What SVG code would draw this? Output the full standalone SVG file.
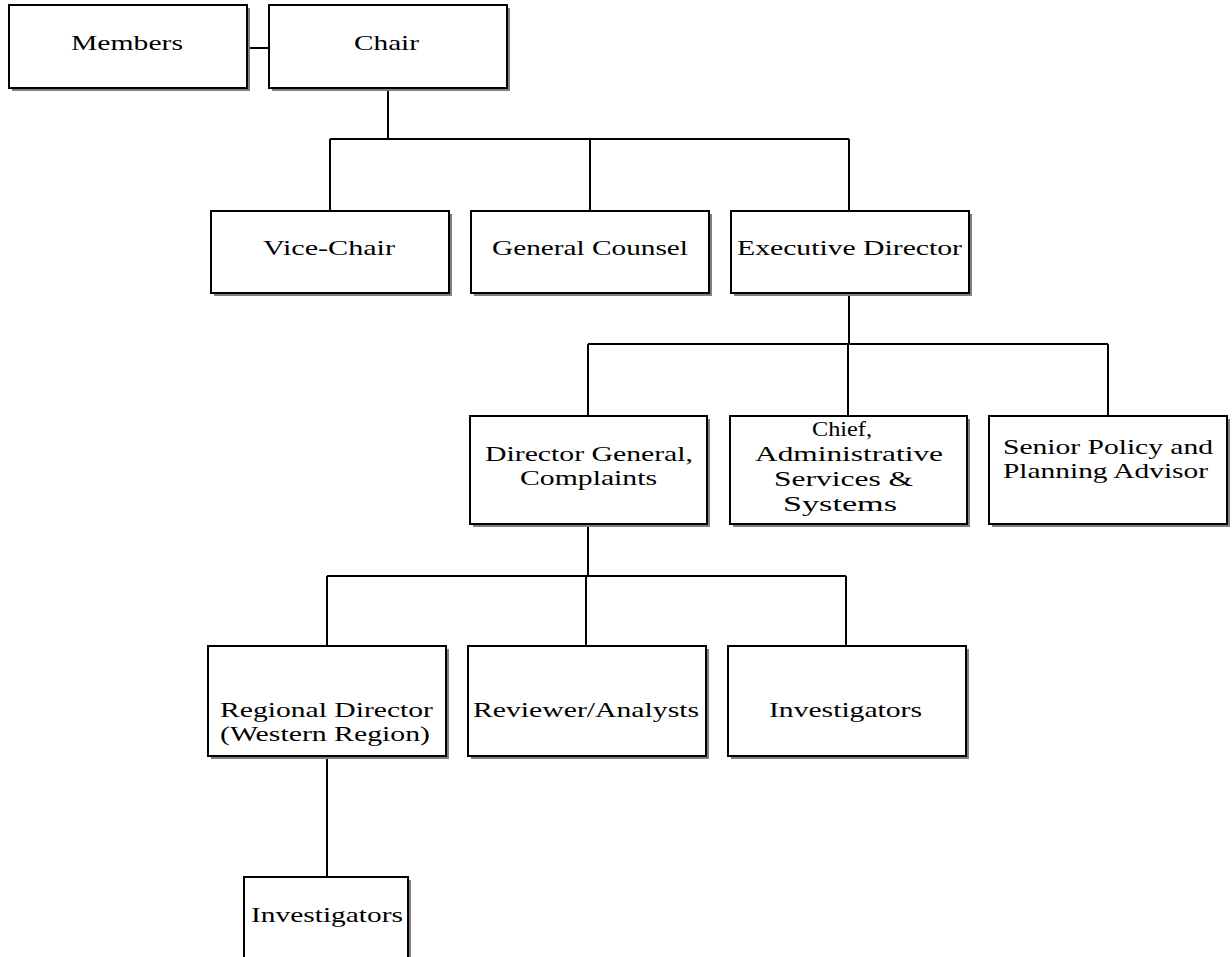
<svg xmlns="http://www.w3.org/2000/svg" width="1232" height="957" viewBox="0 0 1232 957">
<defs>
<style>
.shadow{fill:#808080;}
.box{fill:#ffffff;stroke:#000000;stroke-width:2;}
.lbl{font-family:'Liberation Serif','Times New Roman',Times,serif;font-size:22px;fill:#000000;}
.conn{stroke:#000000;stroke-width:2;fill:none;}
</style>
</defs>
<rect x="0" y="0" width="1232" height="957" fill="#ffffff"/>
<g id="connectors">
<path class="conn" d="M247,48 H269"/>
<path class="conn" d="M388,88 V139 M330,139 H849 M330,139 V211 M590,139 V211 M849,139 V211"/>
<path class="conn" d="M849,293 V344 M588,344 H1108 M588,344 V416 M848,344 V416 M1108,344 V416"/>
<path class="conn" d="M588,524 V576 M327,576 H846 M327,576 V646 M586,576 V646 M846,576 V646"/>
<path class="conn" d="M327,756 V877"/>
</g>
<g id="members">
<rect class="shadow" x="12" y="8" width="238" height="83"/>
<rect class="box" x="9" y="5" width="238" height="83"/>
<text class="lbl" x="71" y="50" textLength="112" lengthAdjust="spacingAndGlyphs">Members</text>
</g>
<g id="chair">
<rect class="shadow" x="272" y="8" width="238" height="83"/>
<rect class="box" x="269" y="5" width="238" height="83"/>
<text class="lbl" x="354" y="50" textLength="65" lengthAdjust="spacingAndGlyphs">Chair</text>
</g>
<g id="vice-chair">
<rect class="shadow" x="214" y="214" width="238" height="82"/>
<rect class="box" x="211" y="211" width="238" height="82"/>
<text class="lbl" x="263" y="255" textLength="132" lengthAdjust="spacingAndGlyphs">Vice-Chair</text>
</g>
<g id="general-counsel">
<rect class="shadow" x="474" y="214" width="238" height="82"/>
<rect class="box" x="471" y="211" width="238" height="82"/>
<text class="lbl" x="492" y="255" textLength="196" lengthAdjust="spacingAndGlyphs">General Counsel</text>
</g>
<g id="executive-director">
<rect class="shadow" x="734" y="214" width="238" height="82"/>
<rect class="box" x="731" y="211" width="238" height="82"/>
<text class="lbl" x="737" y="255" textLength="225" lengthAdjust="spacingAndGlyphs">Executive Director</text>
</g>
<g id="director-general">
<rect class="shadow" x="473" y="419" width="237" height="108"/>
<rect class="box" x="470" y="416" width="237" height="108"/>
<text class="lbl" x="485" y="461" textLength="208" lengthAdjust="spacingAndGlyphs">Director General,</text>
<text class="lbl" x="520" y="485" textLength="137" lengthAdjust="spacingAndGlyphs">Complaints</text>
</g>
<g id="chief-admin">
<rect class="shadow" x="733" y="419" width="237" height="108"/>
<rect class="box" x="730" y="416" width="237" height="108"/>
<text class="lbl" x="812" y="436" textLength="60" lengthAdjust="spacingAndGlyphs">Chief,</text>
<text class="lbl" x="755" y="461" textLength="188" lengthAdjust="spacingAndGlyphs">Administrative</text>
<text class="lbl" x="774" y="486" textLength="139" lengthAdjust="spacingAndGlyphs">Services &amp;</text>
<text class="lbl" x="783" y="511" textLength="114" lengthAdjust="spacingAndGlyphs">Systems</text>
</g>
<g id="senior-policy">
<rect class="shadow" x="992" y="419" width="238" height="108"/>
<rect class="box" x="989" y="416" width="238" height="108"/>
<text class="lbl" x="1003" y="454" textLength="210" lengthAdjust="spacingAndGlyphs">Senior Policy and</text>
<text class="lbl" x="1003" y="478" textLength="205" lengthAdjust="spacingAndGlyphs">Planning Advisor</text>
</g>
<g id="regional-director">
<rect class="shadow" x="211" y="649" width="238" height="110"/>
<rect class="box" x="208" y="646" width="238" height="110"/>
<text class="lbl" x="220" y="717" textLength="213" lengthAdjust="spacingAndGlyphs">Regional Director</text>
<text class="lbl" x="220" y="741" textLength="210" lengthAdjust="spacingAndGlyphs">(Western Region)</text>
</g>
<g id="reviewer-analysts">
<rect class="shadow" x="471" y="649" width="238" height="110"/>
<rect class="box" x="468" y="646" width="238" height="110"/>
<text class="lbl" x="473" y="717" textLength="226" lengthAdjust="spacingAndGlyphs">Reviewer/Analysts</text>
</g>
<g id="investigators">
<rect class="shadow" x="731" y="649" width="238" height="110"/>
<rect class="box" x="728" y="646" width="238" height="110"/>
<text class="lbl" x="769" y="717" textLength="153" lengthAdjust="spacingAndGlyphs">Investigators</text>
</g>
<g id="investigators-western">
<rect class="shadow" x="247" y="880" width="164" height="90"/>
<rect class="box" x="244" y="877" width="164" height="90"/>
<text class="lbl" x="251" y="922" textLength="152" lengthAdjust="spacingAndGlyphs">Investigators</text>
</g>
</svg>
